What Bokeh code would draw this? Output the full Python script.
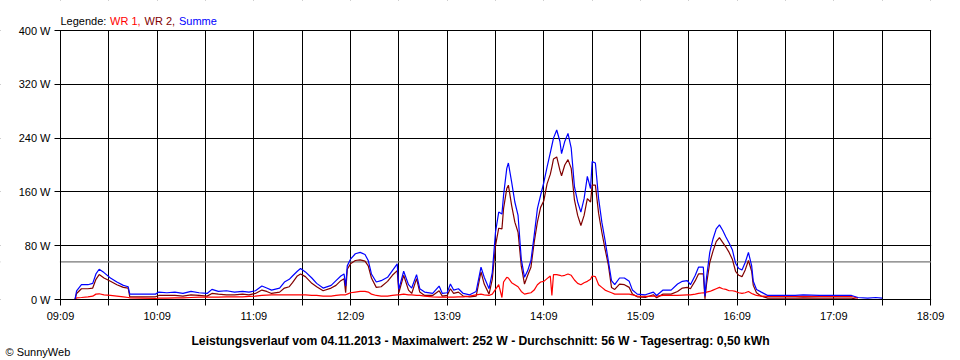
import numpy as np
from bokeh.plotting import figure
from bokeh.models import ColumnDataSource, Range1d, FixedTicker, Span, Label, BoxAnnotation
from bokeh.embed import file_html
from bokeh.resources import INLINE

NA = np.nan

times = ["09:18", "09:19", "09:22", "09:26", "09:29", "09:31", "09:33", "09:36", "09:40", "09:44", "09:48", "09:51", "09:52",
         "10:00", "10:08", "10:10", "10:15", "10:20", "10:25", "10:30", "10:35", "10:40", "10:43", "10:47", "10:52", "10:57",
         "11:02", "11:06", "11:10", "11:14", "11:17", "11:20", "11:25", "11:28", "11:31", "11:33", "11:36", "11:38", "11:41",
         "11:45", "11:48", "11:52", "11:57",
         "12:00", "12:03", "12:05", "12:06", "12:07", "12:09", "12:12", "12:15", "12:18", "12:20", "12:22", "12:25", "12:28",
         "12:32", "12:35", "12:38", "12:39", "12:42", "12:45", "12:47", "12:50", "12:52", "12:55",
         "13:00", "13:04", "13:06", "13:09", "13:11", "13:13", "13:16", "13:19", "13:23", "13:27", "13:30", "13:32", "13:35",
         "13:37", "13:39", "13:41", "13:43", "13:44", "13:46", "13:47", "13:49", "13:51", "13:53", "13:55", "13:57", "13:59",
         "14:01", "14:03", "14:05", "14:07", "14:09", "14:11", "14:13", "14:14", "14:15", "14:17", "14:19", "14:20", "14:22",
         "14:24", "14:26", "14:28", "14:30", "14:32", "14:34", "14:36", "14:38", "14:39", "14:41", "14:43", "14:45", "14:47",
         "14:49", "14:51", "14:53", "14:56", "14:59",
         "15:02", "15:04", "15:07", "15:12", "15:17", "15:19", "15:23", "15:28", "15:32", "15:35", "15:38", "15:40", "15:43",
         "15:45", "15:48", "15:49", "15:50", "15:52", "15:54", "15:56", "15:58",
         "16:00", "16:02", "16:04", "16:06", "16:08", "16:10", "16:12", "16:14", "16:16", "16:18", "16:19", "16:21", "16:24",
         "16:28", "16:35", "16:45", "16:50",
         "17:00", "17:10", "17:20", "17:24", "17:30", "17:35", "17:39"]

summe = [0, 13, 22, 22, 24, 38, 45, 40, 32, 26, 21, 19, 8,
         8, 8, 11, 10, 11, 9, 12, 10, 9, 15, 12, 13, 11,
         12, 11, 13, 20, 17, 14, 17, 26, 30, 35, 42, 46, 41,
         32, 24, 17, 21,
         28, 35, 38, 20, 50, 60, 68, 70, 67, 58, 38, 26, 28,
         33, 43, 53, 15, 42, 22, 17, 37, 16, 11,
         9, 20, 9, 10, 23, 14, 16, 9, 7, 12, 48, 33, 16,
         40, 100, 130, 127, 155, 195, 203, 175, 145, 125, 60, 33, 43,
         58, 95, 135, 155, 174, 197, 218, 229, 240, 252, 235, 217, 235,
         247, 225, 168, 145, 130, 150, 183, 165, 205, 203, 150, 115, 88,
         58, 28, 22, 32, 32,
         27, 14, 8, 7, 11, 6, 14, 14, 23, 27, 28, 22, 36,
         48, 48, 5, 33, 70, 90, 105, 111,
         103, 93, 84, 74, 54, 46, 44, 55, 70, 50, 27, 15, 11,
         6, 6, 6, 7,
         6, 6, 6, 3, 2, 3, 2]

wr2 = [0, 9, 16, 16, 17, 30, 37, 32, 27, 22, 18, 17, 4,
       4, 4, 6, 6, 6, 5, 7, 6, 5, 9, 8, 7, 7,
       8, 7, 9, 14, 12, 9, 11, 17, 19, 25, 35, 38, 34,
       24, 19, 13, 17,
       21, 28, 31, 10, 45, 53, 58, 59, 57, 50, 32, 18, 19,
       27, 36, 43, 10, 36, 14, 9, 31, 11, 6,
       6, 13, 5, 6, 16, 9, 11, 5, 4, 5, 41, 23, 8,
       30, 80, 106, 105, 135, 165, 170, 140, 115, 100, 50, 23, 36,
       48, 85, 115, 137, 147, 172, 186, 197, 209, 212, 192, 184, 200,
       208, 195, 148, 125, 110, 125, 150, 145, 170, 170, 128, 100, 75,
       52, 18, 15, 23, 22,
       18, 8, 4, 3, 7, 2.5, 8, 8, 12, 17, 18, 16, 28,
       38, 38, 1, 23, 55, 72, 86, 92,
       85, 78, 70, 60, 42, 36, 34, 44, 58, 42, 21, 10, 5,
       2, 2, 2, 2.5,
       2, 2, 2, 0, NA, NA, NA]

wr1 = [0, 2.5, 3, 4, 5, 8, 8.5, 7, 6, 5, 4, 3, 2.5,
       2, 1.5, 2, 2, 2.5, 2.5, 3, 3.5, 3.5, 3.5, 3.5, 4, 4,
       4, 4.5, 5, 6, 6.5, 7, 7, 7, 7, 7, 7, 7, 7,
       6, 6, 5, 5,
       6, 7, 7, 7, 8, 10, 11, 12, 12, 11, 8, 6, 5,
       5, 6, 7, 7, 8, 7, 7, 6, 6, 5,
       4, 3.5, 3.5, 3.5, 3.5, 3.5, 4, 4, 5, 7, 8, 7, 6,
       8, 15, 22, 3, 26, 33, 32, 25, 22, 19, 12, 8, 9,
       10, 14, 22, 26, 27, 31, 35, 6, 37, 37, 36, 35, 36,
       38, 36, 29, 24, 22, 25, 27, 30, 35, 34, 22, 18, 14,
       12, 10, 8, 8, 8,
       8, 7, 5, 4.5, 5, 5, 6, 6, 6, 6.5, 7, 7, 8,
       9, 10, 10, 11, 12, 14, 16, 18,
       16, 15, 13, 13, 12, 10, 9, 10, 12, 9, 8, 6, 5,
       4.5, 4.5, 4.5, 4.5,
       4.5, 4.5, 4.5, 2, NA, NA, NA]

x_start, x_end = "09:09", "18:09"
x_tick_step_min = 30
x_tick_labels = ["09:09", "10:09", "11:09", "12:09", "13:09", "14:09", "15:09", "16:09", "17:09", "18:09"]
y_ticks = [0, 80, 160, 240, 320, 400]
y_tick_labels = ["0 W", "80 W", "160 W", "240 W", "320 W", "400 W"]
avg_w = 56
legend_parts = ["Legende:", "WR 1,", "WR 2,", "Summe"]
legend_colors = ["#000000", "#FF0000", "#800000", "#0000FF"]
title_text = "Leistungsverlauf vom 04.11.2013 - Maximalwert: 252 W - Durchschnitt: 56 W - Tagesertrag: 0,50 kWh"
copyright_text = "\u00a9 SunnyWeb"


def to_min(s):
    h, m = s.split(":")
    return int(h) * 60 + int(m)


t = [to_min(s) for s in times]
src = ColumnDataSource(dict(t=t, wr1=wr1, wr2=wr2, summe=summe))

x0, x1 = to_min(x_start), to_min(x_end)
y0, y1 = y_ticks[0], y_ticks[-1]
xt = list(range(x0, x1 + 1, x_tick_step_min))
lab_map = {to_min(s): s for s in x_tick_labels}
x_over = {v: lab_map.get(v, "") for v in xt}

FONT = "Liberation Sans"
W, H = 960, 360
# chart area inside the canvas (pixels): left, right, top, bottom margins
ML, MR, MT, MB = 60, 30, 30, 61
ppx = (W - ML - MR) / (x1 - x0)     # pixels per minute
ppy = (H - MT - MB) / (y1 - y0)     # pixels per watt
xr = Range1d(x0 - ML / ppx, x1 + MR / ppx)
yr = Range1d(y0 - MB / ppy, y1 + MT / ppy)

p = figure(width=W, height=H, x_range=xr, y_range=yr,
           output_backend="svg", toolbar_location=None,
           min_border_left=0, min_border_right=0, min_border_top=0, min_border_bottom=0)
p.background_fill_color = "white"
p.border_fill_color = "white"
p.outline_line_color = None

p.xaxis.fixed_location = y0
p.yaxis.fixed_location = x0
p.xaxis.bounds = (x0, x1)
p.yaxis.bounds = (y0, y1)
p.xaxis.ticker = FixedTicker(ticks=xt)
p.xaxis.major_label_overrides = x_over
p.yaxis.ticker = FixedTicker(ticks=y_ticks)
p.yaxis.major_label_overrides = {v: l for v, l in zip(y_ticks, y_tick_labels)}
p.xgrid.ticker = FixedTicker(ticks=xt)
p.ygrid.ticker = FixedTicker(ticks=y_ticks)
p.grid.grid_line_color = "black"
p.grid.grid_line_alpha = 1.0
p.grid.grid_line_width = 1

for ax in (p.xaxis, p.yaxis):
    ax.axis_line_color = "black"
    ax.major_tick_line_color = "black"
    ax.major_tick_out = 6
    ax.major_tick_in = 0
    ax.minor_tick_line_color = None
    ax.major_label_text_font = FONT
    ax.major_label_text_font_size = "11px"
    ax.major_label_text_color = "black"
    ax.major_label_standoff = 4

avg = Span(location=avg_w, dimension="width", line_color="#777777", line_width=1.2, level="underlay")
p.add_layout(avg)

# white masks so that grid lines stay inside the chart area
ex, ey = 0.6 / ppx, 0.6 / ppy
for kw in (dict(bottom=y1 + ey), dict(top=y0 - ey), dict(right=x0 - ex), dict(left=x1 + ex)):
    p.add_layout(BoxAnnotation(fill_color="white", fill_alpha=1.0, line_color=None,
                               level="underlay", **kw))

p.line("t", "wr2", source=src, line_color="#800000", line_width=1.2)
p.line("t", "wr1", source=src, line_color="#FF0000", line_width=1.2)
p.line("t", "summe", source=src, line_color="#0000FF", line_width=1.2)

# texts (screen units: from the canvas left / bottom, the frame fills the canvas)
leg_x = [60, 109.5, 144, 178.5]
for txt, col, lx in zip(legend_parts, legend_colors, leg_x):
    p.add_layout(Label(x=lx, y=H - 20.5, x_units="screen", y_units="screen", text=txt,
                       text_font=FONT, text_font_size="11px", text_color=col,
                       text_baseline="alphabetic"))

p.add_layout(Label(x=480, y=H - 340.7, x_units="screen", y_units="screen", text=title_text,
                   text_font=FONT, text_font_size="12.2px", text_font_style="bold",
                   text_color="black", text_align="center", text_baseline="alphabetic"))
p.add_layout(Label(x=5, y=H - 351.5, x_units="screen", y_units="screen", text=copyright_text,
                   text_font=FONT, text_font_size="11px", text_color="black",
                   text_baseline="alphabetic"))

open("out.html", "w").write(file_html(p, INLINE))
